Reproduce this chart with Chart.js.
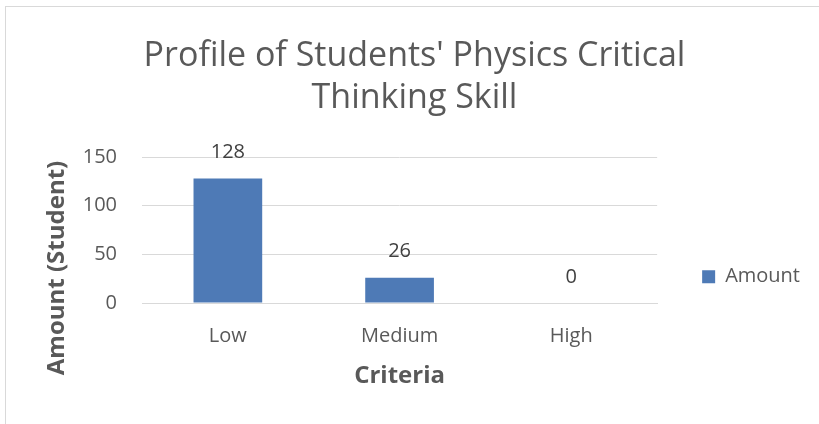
<!DOCTYPE html>
<html>
<head>
<meta charset="utf-8">
<script src="https://cdn.jsdelivr.net/npm/chart.js@4"></script>
<style>
    html, body { margin: 0; padding: 0; background: #ffffff; }
    #wrap { position: relative; width: 819px; height: 424px; overflow: hidden; }
    #frame { position: absolute; left: 5px; top: 6px; width: 840px; height: 440px; border: 1px solid #d9d9d9; }
    #chart { position: absolute; left: 0; top: 0; }
</style>
</head>
<body>
<div id="wrap">
    <div id="frame"></div>
    <canvas id="chart" width="819" height="424"></canvas>
</div>
<script>
const criteria = ['Low', 'Medium', 'High']
const amount = [128, 26, 0]
const yTicks = [0, 50, 100, 150]

const textColor = '#595959'
const barColor = '#4e7ab6'

Chart.defaults.font.family = "'Open Sans', sans-serif"
Chart.defaults.color = textColor

// value labels above each bar
const barValues = {
    id: 'barValues',
    afterDatasetsDraw: (chart) => {
        const ctx = chart.ctx
        const meta = chart.getDatasetMeta(0)
        ctx.save()
        ctx.font = "20px 'Open Sans', sans-serif"
        ctx.fillStyle = '#404040'
        ctx.textAlign = 'center'
        ctx.textBaseline = 'middle'
        meta.data.forEach((bar, i) => {
            ctx.fillText(chart.data.datasets[0].data[i], bar.x, bar.y - 26)
        })
        ctx.restore()
    }
}

// y axis title, centred lower than the plot area like the original
const yTitle = {
    id: 'yTitle',
    afterDraw: (chart) => {
        const ctx = chart.ctx
        ctx.save()
        ctx.translate(57, 268)
        ctx.rotate(-Math.PI / 2)
        ctx.font = "bold 24px 'Open Sans', sans-serif"
        ctx.fillStyle = textColor
        ctx.textAlign = 'center'
        ctx.textBaseline = 'middle'
        ctx.fillText('Amount (Student)', 0, 0)
        ctx.restore()
    }
}

const data = {
    labels: criteria,
    datasets: [
        {
            label: 'Amount',
            data: amount,
            backgroundColor: barColor,
            borderWidth: 0,
            categoryPercentage: 1,
            barPercentage: 0.4,
        }
    ]
}

const options = {
    responsive: false,
    animation: false,
    layout: {
        padding: { left: 19, right: 9, top: 0, bottom: 0 }
    },
    plugins: {
        title: {
            display: true,
            text: ["Profile of Students' Physics Critical", 'Thinking Skill'],
            color: textColor,
            font: { size: 34, weight: 'normal', lineHeight: 42 / 34 },
            padding: { top: 35, bottom: 38 }
        },
        legend: {
            position: 'right',
            title: {
                display: true,
                text: '',
                padding: { top: 115, bottom: 0 }
            },
            labels: {
                boxWidth: 13,
                boxHeight: 13,
                padding: 45,
                color: textColor,
                font: { size: 20 }
            }
        },
        tooltip: { enabled: false }
    },
    scales: {
        x: {
            grid: { display: false, drawTicks: false },
            border: { color: '#d9d9d9' },
            ticks: {
                color: textColor,
                font: { size: 20 },
                padding: 21
            },
            title: {
                display: true,
                text: 'Criteria',
                color: textColor,
                font: { size: 24, weight: 'bold' },
                padding: { top: 0, bottom: 33.6 }
            },
            afterFit: (scale) => { scale.height = 121 }
        },
        y: {
            min: 0,
            max: 150,
            grid: { color: '#d9d9d9', drawTicks: false },
            border: { display: false },
            afterBuildTicks: (scale) => {
                scale.ticks = yTicks.map(v => ({ value: v }))
            },
            ticks: {
                color: textColor,
                font: { size: 20 },
                padding: 25
            },
            afterFit: (scale) => { scale.width = 123 }
        }
    }
}

const chartDoc = document.getElementById('chart')
const chart = new Chart(chartDoc, {
    type: 'bar',
    data: data,
    options: options,
    plugins: [barValues, yTitle]
})
</script>
</body>
</html>
